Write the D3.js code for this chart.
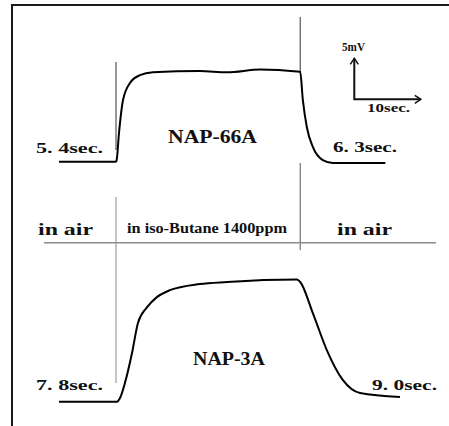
<!DOCTYPE html>
<html>
<head>
<meta charset="utf-8">
<script src="https://cdn.jsdelivr.net/npm/d3@7"></script>
<style>
  body { margin: 0; background: #fff; }
  text { font-family: "Liberation Serif", "DejaVu Serif", serif; font-weight: bold; fill: #111; }
</style>
</head>
<body>
<svg width="449" height="426"></svg>
<script>
var svg = d3.select('svg');

// time in seconds (0 = gas in), signal in mV above baseline
var gasOn = 0, gasOff = 27.7;

var nap66Time = [-8.57, 0, 0.1, 0.45, 1.05, 2.1, 3.6, 5.56, 12.6, 16.7, 21.7, 27.2, 27.7, 28.1, 28.7, 29.6, 31.1, 32.6, 40.5];
var nap66mV   = [0, 0, 0.2, 3.5, 7.5, 9.6, 10.55, 10.9, 11.05, 10.9, 11.25, 11.0, 10.95, 7.5, 4.2, 1.8, 0.2, -0.15, -0.15];

var nap3Time = [-8.57, 0.15, 0.6, 1.35, 2.4, 3.3, 4.65, 6.15, 8.1, 12.6, 16.7, 27.2, 27.7, 29.6, 31.7, 34.1, 36.7, 42.7];
var nap3mV   = [0, 0, 0.45, 2.3, 5.9, 9.6, 11.5, 12.75, 13.6, 14.35, 14.6, 14.9, 14.6, 10.8, 6.3, 2.65, 1.05, 0.57];

var sensors = ['NAP-66A', 'NAP-3A'];
var riseLabels = ['5. 4sec.', '7. 8sec.'];
var fallLabels = ['6. 3sec.', '9. 0sec.'];
var zoneLabels = ['in air', 'in iso-Butane 1400ppm', 'in air'];

var x = d3.scaleLinear().domain([0, 10]).range([116, 182.5]);
var yTop = d3.scaleLinear().domain([0, 5]).range([161.7, 120.7]);
var yBot = d3.scaleLinear().domain([0, 5]).range([401.7, 360.7]);

// frame
svg.append('line').attr('x1', 11).attr('y1', 5).attr('x2', 449).attr('y2', 5)
    .attr('stroke', '#1a1a1a').attr('stroke-width', 2);
svg.append('line').attr('x1', 12).attr('y1', 4).attr('x2', 12).attr('y2', 426)
    .attr('stroke', '#1a1a1a').attr('stroke-width', 2);

// gas in / gas out markers
var dividers = [
    {t: gasOn, y1: 62, y2: 150, c: '#333'},
    {t: gasOn, y1: 197, y2: 383, c: '#8a8a8a'},
    {t: gasOff, y1: 17, y2: 72, c: '#333'},
    {t: gasOff, y1: 163, y2: 250, c: '#555'}
];
svg.selectAll('.div').data(dividers).enter()
    .append('line')
    .attr('x1', function(d){ return x(d.t) })
    .attr('x2', function(d){ return x(d.t) })
    .attr('y1', function(d){ return d.y1 })
    .attr('y2', function(d){ return d.y2 })
    .attr('stroke', function(d){ return d.c })
    .attr('stroke-width', 1);

svg.append('line').attr('x1', 44).attr('x2', 436).attr('y1', 242.7).attr('y2', 242.7)
    .attr('stroke', '#8c8c8c').attr('stroke-width', 1.5);

// traces
var traces = [
    {t: nap66Time, v: nap66mV, y: yTop},
    {t: nap3Time, v: nap3mV, y: yBot}
];
traces.forEach(function(tr){
    var pts = tr.t.map(function(t, i){ return [x(t), tr.y(tr.v[i])] });
    svg.append('path')
        .attr('d', d3.line().curve(d3.curveMonotoneX)(pts))
        .attr('fill', 'none')
        .attr('stroke', '#000')
        .attr('stroke-width', 2);
});

// labels
function label(txt, x0, y0, size, len){
    var t = svg.append('text').attr('x', x0).attr('y', y0)
        .attr('font-size', size).text(txt);
    if (len) t.attr('textLength', len).attr('lengthAdjust', 'spacingAndGlyphs');
    return t;
}
label(sensors[0], 168, 143, 19, 89);
label(sensors[1], 193, 365, 19, 72);
label(riseLabels[0], 36, 153, 15, 67);
label(fallLabels[0], 333, 152, 15, 64);
label(riseLabels[1], 36, 390, 15, 67);
label(fallLabels[1], 372, 390, 15, 65);
label(zoneLabels[0], 38, 235, 16, 55);
label(zoneLabels[1], 127, 233, 14, 160);
label(zoneLabels[2], 337, 235, 16, 55);

// scale bar: 5 mV and 10 sec
var ox = 354.3, oy = 99.3;
var barH = yTop(0) - yTop(5);
var barW = x(10) - x(0);
svg.append('path')
    .attr('d', 'M' + ox + ',' + (oy - barH) + 'V' + oy + 'H' + (ox + barW))
    .attr('fill', 'none').attr('stroke', '#111').attr('stroke-width', 2);
svg.append('path')
    .attr('d', 'M' + (ox - 4) + ',' + (oy - barH + 6) + 'L' + ox + ',' + (oy - barH) + 'L' + (ox + 4) + ',' + (oy - barH + 6)
        + 'M' + (ox + barW - 6) + ',' + (oy - 4) + 'L' + (ox + barW) + ',' + oy + 'L' + (ox + barW - 6) + ',' + (oy + 4))
    .attr('fill', 'none').attr('stroke', '#111').attr('stroke-width', 1.5);
label('5mV', 342, 51, 12, 23);
label('10sec.', 367, 112, 13, 43);
</script>
</body>
</html>
